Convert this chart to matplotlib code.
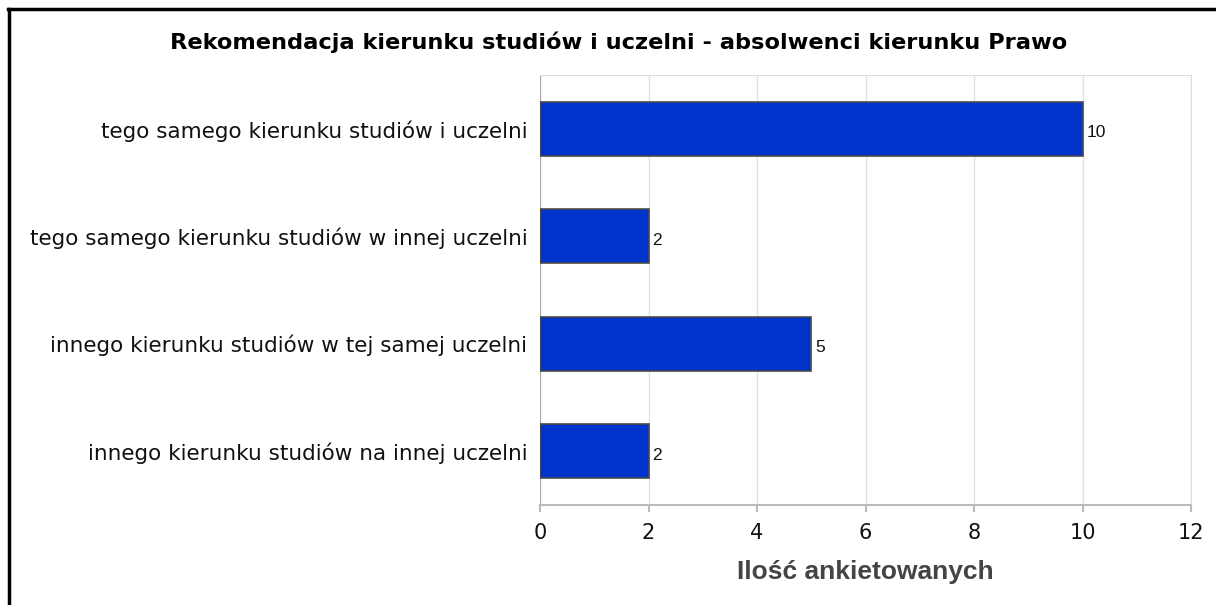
import matplotlib
matplotlib.use('Agg')
import matplotlib.pyplot as plt
from matplotlib.lines import Line2D

# dane z wykresu
kategorie = [
    'tego samego kierunku studiów i uczelni',
    'tego samego kierunku studiów w innej uczelni',
    'innego kierunku studiów w tej samej uczelni',
    'innego kierunku studiów na innej uczelni',
]
wartosci = [10, 2, 5, 2]
xticki = [0, 2, 4, 6, 8, 10, 12]
tytul = 'Rekomendacja kierunku studiów i uczelni - absolwenci kierunku Prawo'
os_x = 'Ilość ankietowanych'

W, H = 1216, 605
fig = plt.figure(figsize=(W / 100, H / 100), dpi=100)
fig.patch.set_facecolor('white')

ax = fig.add_axes([540 / W, (H - 505) / H, (1191 - 540) / W, (505 - 75) / H])

y = list(range(len(kategorie)))
ax.barh(y, wartosci, height=0.5, color='#0033cc', edgecolor='#4a4a4a', linewidth=1.2, zorder=3)

# etykiety wartości przy słupkach
for yi, v in zip(y, wartosci):
    ax.text(v + 0.07, yi + 0.035, str(v), va='center', ha='left', fontsize=12.5,
            color='#111111', family='Liberation Sans', zorder=4)

ax.set_ylim(len(kategorie) - 0.5, -0.5)
ax.set_yticks(y)
ax.set_yticklabels(kategorie, fontsize=15.5, family='DejaVu Sans', color='#111111')
ax.tick_params(axis='y', length=0, pad=9)

ax.set_xlim(0, 12)
ax.set_xticks(xticki)
ax.set_xticklabels([str(t) for t in xticki], fontsize=15, family='DejaVu Sans', color='#111111')
ax.tick_params(axis='x', length=5, color='#bbbbbb', width=1.5, pad=8)
ax.grid(axis='x', color='#e2e2e2', linewidth=1, zorder=0)
ax.set_axisbelow(True)

for s in ['top', 'right']:
    ax.spines[s].set_color('#dddddd')
ax.spines['left'].set_color('#aaaaaa')
ax.spines['bottom'].set_color('#bbbbbb')
ax.spines['bottom'].set_linewidth(1.5)

ax.set_xlabel(os_x, fontsize=19, fontweight='bold', color='#444444',
              family='Liberation Sans', labelpad=12)

fig.text(0.5086, (H - 42) / H, tytul, ha='center', va='center', fontsize=16.2,
         fontweight='bold', family='DejaVu Sans', color='black')

# ramka
fig.add_artist(Line2D([8 / W, 1], [(H - 9) / H] * 2, color='black', linewidth=2.5))
fig.add_artist(Line2D([9 / W] * 2, [0, (H - 9) / H], color='black', linewidth=2.5))

fig.savefig('out.png', dpi=100)
